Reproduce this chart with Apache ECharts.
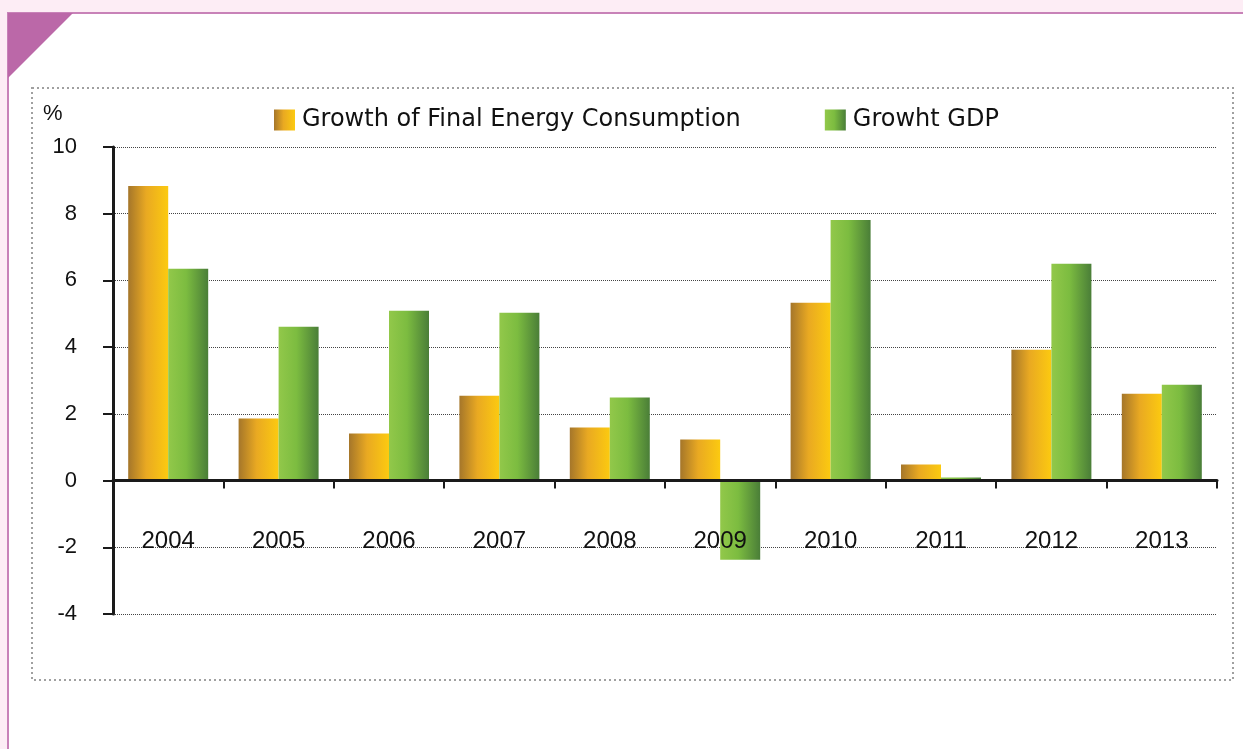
<!DOCTYPE html>
<html lang="en">
<head>
    <meta charset="UTF-8">
    <title>Energy consumption vs GDP growth</title>
    <script src="https://cdn.jsdelivr.net/npm/echarts@6/dist/echarts.min.js"></script>
    <style>
        html, body { margin: 0; padding: 0; background: #fdedf5; }
        #mybox { width: 1243px; height: 749px; }
    </style>
</head>
<body>
<div id="mybox"></div>
<script>
    var years = ['2004', '2005', '2006', '2007', '2008', '2009', '2010', '2011', '2012', '2013'];
    var energyGrowth = [8.83, 1.86, 1.41, 2.54, 1.59, 1.23, 5.33, 0.48, 3.92, 2.60];
    var gdpGrowth = [6.35, 4.61, 5.09, 5.03, 2.49, -2.37, 7.81, 0.09, 6.50, 2.87];
    var yTicks = [-4, -2, 0, 2, 4, 6, 8, 10];

    function grad(stops) {
        return new echarts.graphic.LinearGradient(0, 0, 1, 0, stops);
    }
    var goldColor = grad([
        { offset: 0, color: '#a5762a' },
        { offset: 0.45, color: '#e9a922' },
        { offset: 1, color: '#fcca10' }
    ]);
    var greenColor = grad([
        { offset: 0, color: '#92c84a' },
        { offset: 0.45, color: '#7cbc40' },
        { offset: 1, color: '#4a7e38' }
    ]);

    var mychart = echarts.init(document.getElementById('mybox'));
    mychart.setOption({
        animation: false,
        graphic: [
            // white panel with pink border
            { type: 'rect', z: -10, shape: { x: 8, y: 13, width: 1240, height: 740 },
              style: { fill: '#ffffff', stroke: '#c882b8', lineWidth: 2 } },
            { type: 'polygon', z: -9, shape: { points: [[8, 13], [73, 13], [8, 78]] },
              style: { fill: '#bb68a8' } },
            // dotted frame
            { type: 'rect', z: -8, shape: { x: 32, y: 88, width: 1201, height: 592 },
              style: { fill: 'none', stroke: '#a0a0a0', lineWidth: 2, lineDash: [2, 3] } },
            { type: 'text', left: 43, top: 103,
              style: { text: '%', fontSize: 22, fill: '#111', fontFamily: 'Liberation Sans' } }
        ],
        legend: {
            left: 269,
            top: 103,
            itemWidth: 21,
            itemHeight: 21,
            itemGap: 84,
            icon: 'rect',
            textStyle: { fontSize: 24, color: '#111', fontFamily: 'DejaVu Sans', padding: [0, 0, 0, 2] },
            data: ['Growth of Final Energy Consumption', 'Growht GDP']
        },
        grid: { left: 113, right: 26, top: 147, bottom: 135 },
        xAxis: {
            type: 'category',
            data: years,
            z: 5,
            axisLine: { onZero: true, lineStyle: { color: '#1a1a1a', width: 3 } },
            axisTick: { show: true, length: 8, lineStyle: { color: '#1a1a1a', width: 2 } },
            axisLabel: { margin: -85, fontSize: 24, color: '#111', fontFamily: 'Liberation Sans' },
            splitLine: { show: false }
        },
        yAxis: {
            type: 'value',
            min: yTicks[0],
            max: yTicks[yTicks.length - 1],
            interval: 2,
            axisLine: { show: true, onZero: false, lineStyle: { color: '#1a1a1a', width: 3 } },
            axisTick: { show: true, length: 10, lineStyle: { color: '#1a1a1a', width: 2 } },
            axisLabel: { margin: 36, fontSize: 22, color: '#111', fontFamily: 'Liberation Sans' },
            splitLine: { show: true, lineStyle: { type: 'dotted', color: '#444', width: 1 } }
        },
        series: [
            {
                name: 'Growth of Final Energy Consumption',
                type: 'bar',
                barWidth: 40,
                barGap: '0%',
                itemStyle: { color: goldColor },
                data: energyGrowth
            },
            {
                name: 'Growht GDP',
                type: 'bar',
                barWidth: 40,
                barGap: '0%',
                itemStyle: { color: greenColor },
                data: gdpGrowth
            }
        ]
    });
</script>
</body>
</html>
